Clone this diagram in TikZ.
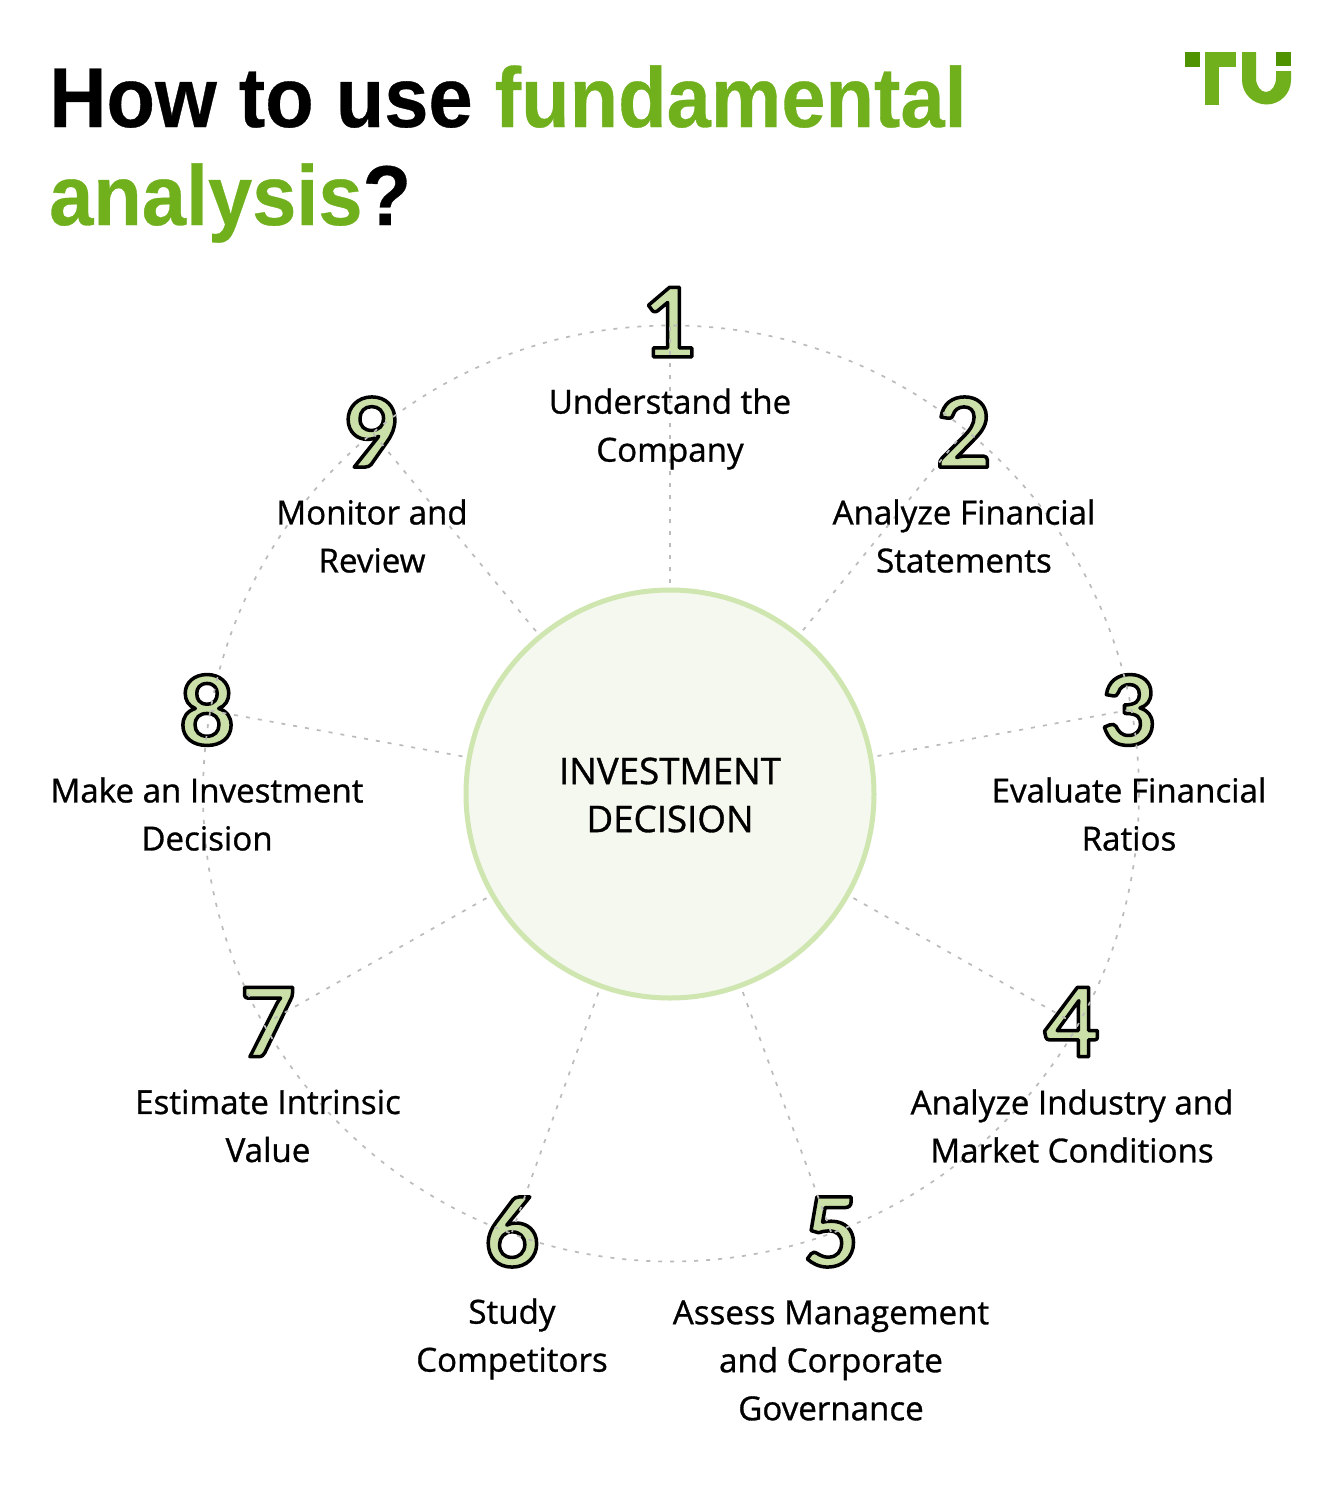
\documentclass[tikz,border=0pt]{standalone}
\usepackage{xcolor}
\usepackage{fontspec}
\setmainfont{Open Sans}[FakeBold=0.9]
\newfontfamily\titlefont{Liberation Sans Bold}[FakeStretch=0.934,FakeBold=0.4]
\newfontfamily\digitfont{Lato Bold}
\usetikzlibrary{positioning}
\definecolor{tugreen}{HTML}{6FB01C}
\definecolor{tudark}{HTML}{4F9400}
\definecolor{digitfill}{HTML}{CBE0A8}
\definecolor{hubfill}{HTML}{F4F8EF}
\definecolor{hubline}{HTML}{CFE6B0}
\definecolor{dashgray}{HTML}{BBBBBB}
\newcommand{\outlined}[1]{\special{pdf:literal direct q 2 Tr 3.5 w 1 j 0 0 0 RG 0.796 0.878 0.659 rg}#1\special{pdf:literal direct 0 Tr Q}}
\tikzset{
	spoke/.style={dashgray, line width=1.7pt, dash pattern=on 4pt off 8pt},
	stepnum/.style={inner sep=0pt, font=\digitfont\fontsize{96}{96}\selectfont},
	steptext/.style={align=center, inner sep=0pt, font=\fontsize{33.1}{48}\selectfont},
	heading/.style={anchor=base west, inner sep=0pt, font=\titlefont\fontsize{85}{98}\selectfont},
}
\begin{document}
\begin{tikzpicture}[x=1pt,y=-1pt]
	\useasboundingbox (0,0) rectangle (1340,1502);
	\fill[white] (0,0) rectangle (1340,1502);
	% heading
	\node (title1) [heading] at (49,127) {How to use \textcolor{tugreen}{fundamental}};
	\node (title2) [heading] at (49,225) {\textcolor{tugreen}{analysis}?};
	% logo
	\fill[tudark] (1185,52) rectangle (1200,67);
	\fill[tugreen] (1205,52) rectangle (1236,67);
	\fill[tugreen] (1205,52) rectangle (1219,105);
	\fill[tugreen] (1242,52) -- (1256,52) -- (1256,78) arc[start angle=180,end angle=0,x radius=10,y radius=14] -- (1276,71) -- (1291,71) -- (1291,80) arc[start angle=0,end angle=180,radius=24.5] -- cycle;
	\fill[tudark] (1276,52) rectangle (1291,66);
	% numbers
	\foreach \num/\px/\py in {1/670/322,2/964/432,3/1129/710,4/1072/1022,5/831/1232,6/512/1232,7/268/1022,8/207/710,9/372/432}
		\node (n\num) [stepnum] at (\px,\py) {\outlined{\num}};
	% hub
	\node (hub) [circle, draw=hubline, line width=5pt, fill=hubfill, minimum size=408pt, inner sep=0pt, outer sep=7pt] at (670,794) {};
	\node (hubtext) [align=center, inner sep=0pt, font=\fontsize{36.7}{48}\selectfont] at (670,795) {INVESTMENT\\DECISION};
	% dashed lines
	\draw[spoke] (hub.center) ++(1,-0.5) circle (468);
	\foreach \num in {1,...,9}
		\draw[spoke] (hub) -- (n\num.center);
	% labels
	\node (t1) [steptext] at (670,429) {Understand the\\Company};
	\node (t2) [steptext] at (964,536) {Analyze Financial\\Statements};
	\node (t3) [steptext] at (1129,814) {Evaluate Financial\\Ratios};
	\node (t4) [steptext] at (1072,1126) {Analyze Industry and\\Market Conditions};
	\node (t5) [steptext] at (831,1360.5) {Assess Management\\and Corporate\\Governance};
	\node (t6) [steptext] at (512,1339) {Study\\Competitors};
	\node (t7) [steptext] at (268,1126) {Estimate Intrinsic\\Value};
	\node (t8) [steptext] at (207,814) {Make an Investment\\Decision};
	\node (t9) [steptext] at (372,536) {Monitor and\\Review};
\end{tikzpicture}
\end{document}
